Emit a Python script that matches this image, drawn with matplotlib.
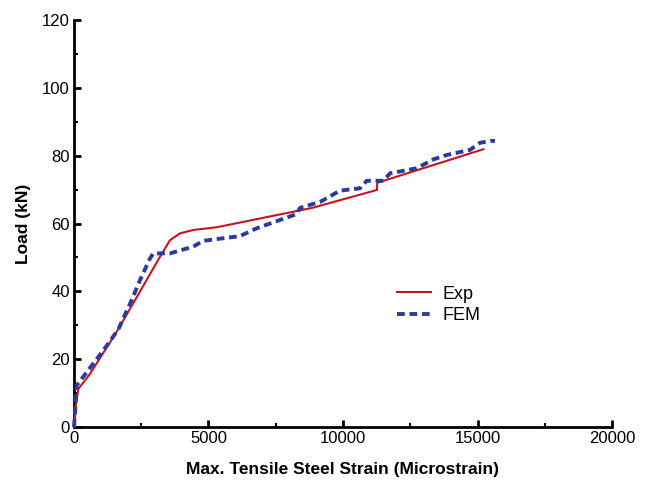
import matplotlib
matplotlib.use('Agg')
import matplotlib.pyplot as plt
from matplotlib.ticker import MultipleLocator

plt.rcParams['font.family'] = ['Liberation Sans', 'DejaVu Sans']

# Experimental curve
exp_strain = [0, 60, 160, 595, 1587, 2268, 3197, 3569, 3941, 4436, 5304, 8848,
              11264, 11270, 15216]
exp_load = [0, 6, 11.2, 15.7, 28.1, 37.4, 50.2, 55.1, 57.1, 58.1, 58.9, 64.6,
            69.9, 72.0, 81.9]

# FEM curve
fem_strain = [0, 37, 100, 1090, 1648, 2143, 2453, 2825, 2949, 3569, 4436, 4807,
              6171, 6791, 8278, 8401, 9145, 9268, 9888, 10632, 10880, 11500,
              11747, 12739, 13357, 13854, 14721, 15093, 15528, 15650]
fem_load = [0, 4, 12.3, 22.6, 28.8, 37.4, 43.3, 49.7, 51.2, 51.2, 53.2, 54.9,
            56.3, 58.6, 62.8, 64.6, 66.4, 66.9, 69.7, 70.4, 72.6, 72.6,
            74.8, 76.3, 78.9, 80.2, 81.7, 83.8, 84.4, 84.3]

fig = plt.figure(figsize=(6.49, 4.87), dpi=100)
ax = fig.add_axes([0.114, 0.123, 0.829, 0.836])

ax.plot(exp_strain, exp_load, color='#c8141e', linewidth=1.5, label='Exp', clip_on=False, zorder=3)
ax.plot(fem_strain, fem_load, color='#2b3a9c', linewidth=2.8, linestyle=(0, (2.0, 1.2)),
        label='FEM', clip_on=False, zorder=4)

ax.set_xlim(0, 20000)
ax.set_ylim(0, 120)
ax.xaxis.set_major_locator(MultipleLocator(5000))
ax.xaxis.set_minor_locator(MultipleLocator(2500))
ax.yaxis.set_major_locator(MultipleLocator(20))
ax.yaxis.set_minor_locator(MultipleLocator(10))

for s in ['top', 'right']:
    ax.spines[s].set_visible(False)
for s in ['left', 'bottom']:
    ax.spines[s].set_linewidth(2)

ax.tick_params(which='major', direction='in', length=5, width=2, labelsize=12, pad=3)
ax.tick_params(which='minor', direction='in', length=3, width=1.5)

ax.set_xlabel('Max. Tensile Steel Strain (Microstrain)', fontsize=12.5, fontweight='bold', labelpad=11)
ax.set_ylabel('Load (kN)', fontsize=12.5, fontweight='bold', labelpad=8)

ax.legend(loc='center left', bbox_to_anchor=(0.57, 0.30), frameon=False, fontsize=13,
          handlelength=1.9, handletextpad=0.6, labelspacing=0.25)

fig.savefig('out.png', dpi=100)
